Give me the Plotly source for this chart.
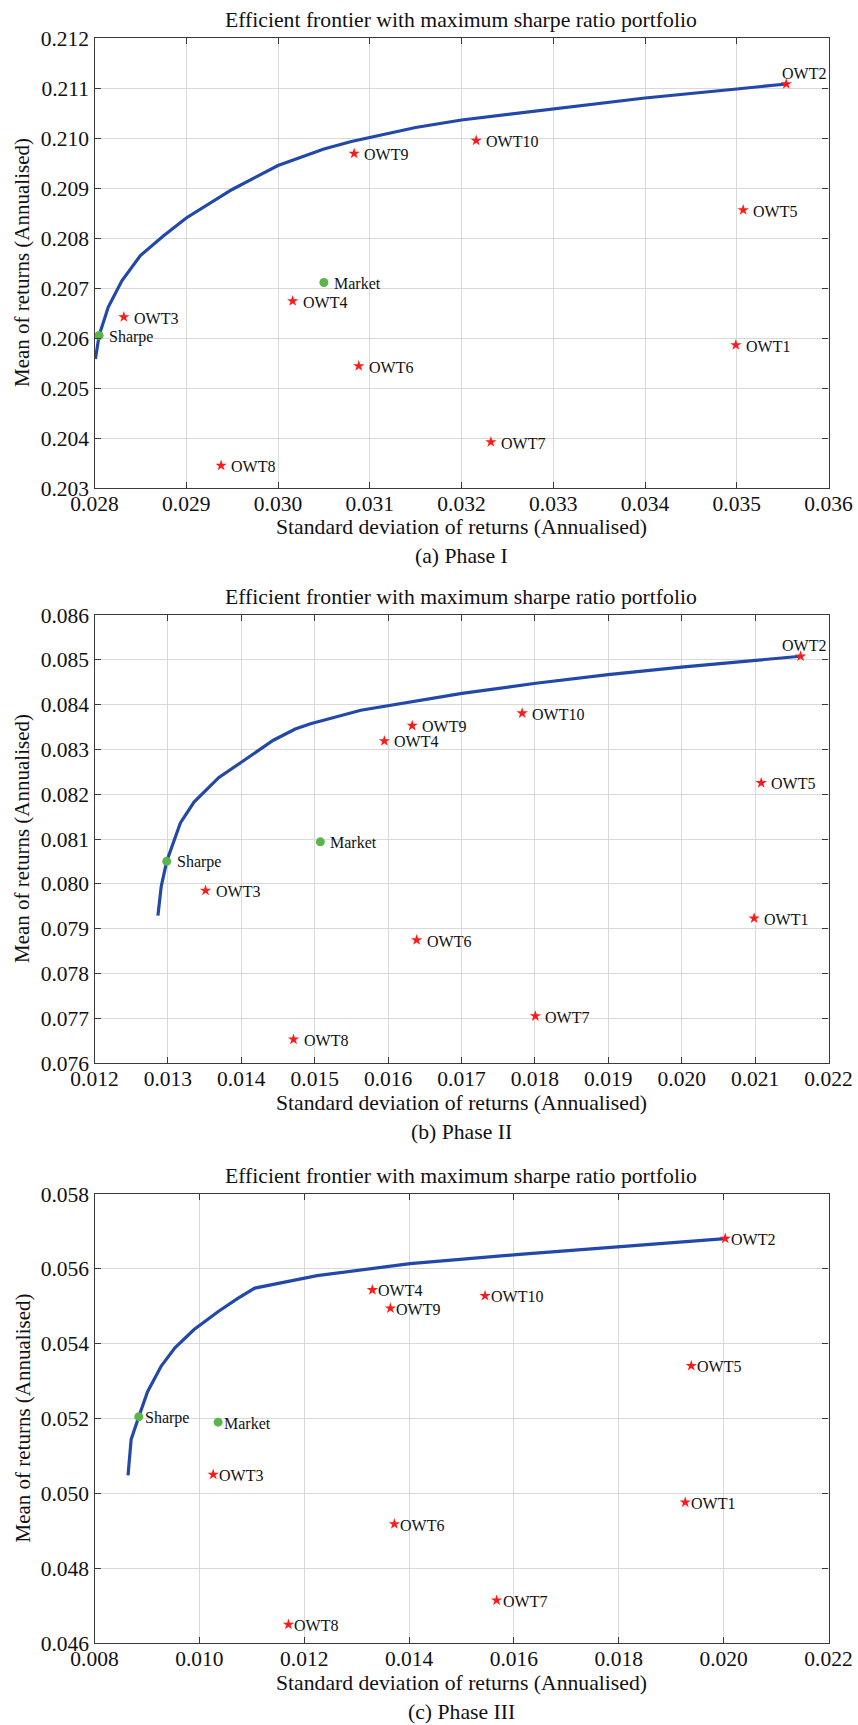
import plotly.graph_objects as go

W, H = 858, 1725

assets = ["OWT1", "OWT2", "OWT3", "OWT4", "OWT5", "OWT6", "OWT7", "OWT8", "OWT9", "OWT10"]

# ---- Phase I ----
p1_sd = [0.03499, 0.03554, 0.02832, 0.03016, 0.03507, 0.03088, 0.03232, 0.02938, 0.03083, 0.03216]
p1_mu = [0.20586, 0.21108, 0.20642, 0.20674, 0.20856, 0.20544, 0.20392, 0.20345, 0.20969, 0.20995]
p1_front_sd = [0.02801, 0.02805, 0.02815, 0.02830, 0.02850, 0.02875, 0.02900, 0.02950, 0.03000,
               0.03050, 0.03080, 0.03100, 0.03150, 0.03200, 0.03300, 0.03400, 0.03500, 0.03554]
p1_front_mu = [0.20558, 0.20605, 0.20662, 0.20715, 0.20765, 0.20804, 0.20840, 0.20897, 0.20945,
               0.20978, 0.20993, 0.21001, 0.21021, 0.21036, 0.21058, 0.21080, 0.21098, 0.21108]
p1_sharpe = [0.02805, 0.20605]
p1_market = [0.03050, 0.20711]

# ---- Phase II ----
p2_sd = [0.020987, 0.02162, 0.013513, 0.015949, 0.021083, 0.016389, 0.018006, 0.014712, 0.016329, 0.017827]
p2_mu = [0.07923, 0.08508, 0.079849, 0.083188, 0.082251, 0.078745, 0.077046, 0.076527, 0.083531, 0.083808]
p2_front_sd = [0.012864, 0.012909, 0.012984, 0.013170, 0.013356, 0.013691, 0.013990, 0.014437, 0.014735,
               0.014943, 0.015629, 0.016374, 0.017007, 0.018013, 0.018997, 0.019995, 0.020993, 0.02162]
p2_front_mu = [0.079289, 0.079941, 0.080502, 0.081360, 0.081824, 0.082368, 0.082703, 0.083205, 0.083456,
               0.083573, 0.083874, 0.084084, 0.084250, 0.084477, 0.084669, 0.084837, 0.084987, 0.08508]
p2_sharpe = [0.012984, 0.080502]
p2_market = [0.015077, 0.080937]

# ---- Phase III ----
p3_sd = [0.019267, 0.020030, 0.010264, 0.013300, 0.019382, 0.013720, 0.015670, 0.011700, 0.013644, 0.015449]
p3_mu = [0.049759, 0.056810, 0.050503, 0.055436, 0.053410, 0.049180, 0.047140, 0.046495, 0.054946, 0.055279]
p3_front_sd = [0.008640, 0.008699, 0.008845, 0.009012, 0.009273, 0.009534, 0.009899, 0.010368, 0.010733,
               0.011057, 0.012246, 0.014019, 0.016106, 0.018192, 0.020030]
p3_front_mu = [0.050480, 0.051442, 0.052049, 0.052715, 0.053400, 0.053889, 0.054379, 0.054868, 0.055210,
               0.055485, 0.055817, 0.056140, 0.056385, 0.056610, 0.056810]
p3_sharpe = [0.008845, 0.052049]
p3_market = [0.010358, 0.051902]

TITLE = "Efficient frontier with maximum sharpe ratio portfolio"
XLABEL = "Standard deviation of returns (Annualised)"
YLABEL = "Mean of returns (Annualised)"

FONT = "Liberation Serif"
TXT = "#111111"
LINE_BLUE = "#2349a8"
STAR_RED = "#ff1a1a"
DOT_GREEN = "#5bb548"
FRAME = "#3a3a3a"
GRID = "#d9d9d9"

# plot-area boxes in pixels (left, right, top, bottom)
X_LEFT, X_RIGHT = 94.5, 828.5
panels = [
    dict(sd=p1_sd, mu=p1_mu, fsd=p1_front_sd, fmu=p1_front_mu, sharpe=p1_sharpe, market=p1_market,
         xr=[0.028, 0.036], xd=0.001, yr=[0.203, 0.212], yd=0.001,
         top=38, bottom=488, caption="(a) Phase I", gap=9, top_label="left"),
    dict(sd=p2_sd, mu=p2_mu, fsd=p2_front_sd, fmu=p2_front_mu, sharpe=p2_sharpe, market=p2_market,
         xr=[0.012, 0.022], xd=0.001, yr=[0.076, 0.086], yd=0.001,
         top=615, bottom=1063, caption="(b) Phase II", gap=9, top_label="center"),
    dict(sd=p3_sd, mu=p3_mu, fsd=p3_front_sd, fmu=p3_front_mu, sharpe=p3_sharpe, market=p3_market,
         xr=[0.008, 0.022], xd=0.002, yr=[0.046, 0.058], yd=0.002,
         top=1194, bottom=1643, caption="(c) Phase III", gap=5, top_label=None),
]


def px_x(p):
    return p / W


def px_y(p):
    return 1 - p / H


fig = go.Figure()
annotations = []
layout_axes = {}
x_mid = px_x((X_LEFT + X_RIGHT) / 2)

for i, pn in enumerate(panels, start=1):
    xa = "x" if i == 1 else f"x{i}"
    ya = "y" if i == 1 else f"y{i}"
    xkey = "xaxis" if i == 1 else f"xaxis{i}"
    ykey = "yaxis" if i == 1 else f"yaxis{i}"

    # efficient frontier
    fig.add_trace(go.Scatter(x=pn["fsd"], y=pn["fmu"], mode="lines",
                             line=dict(color=LINE_BLUE, width=3.2),
                             xaxis=xa, yaxis=ya, showlegend=False, hoverinfo="skip"))
    # individual assets
    fig.add_trace(go.Scatter(x=pn["sd"], y=pn["mu"], mode="markers",
                             marker=dict(symbol="star", size=8.5, color=STAR_RED, line=dict(width=0)),
                             xaxis=xa, yaxis=ya, showlegend=False, text=assets))
    # max-Sharpe and market portfolios
    fig.add_trace(go.Scatter(x=[pn["sharpe"][0], pn["market"][0]], y=[pn["sharpe"][1], pn["market"][1]],
                             mode="markers", marker=dict(symbol="circle", size=9, color=DOT_GREEN,
                                                         line=dict(width=0)),
                             xaxis=xa, yaxis=ya, showlegend=False, text=["Sharpe", "Market"]))

    # point labels
    names = assets + ["Sharpe", "Market"]
    xs = pn["sd"] + [pn["sharpe"][0], pn["market"][0]]
    ys = pn["mu"] + [pn["sharpe"][1], pn["market"][1]]
    for name, xv, yv in zip(names, xs, ys):
        if name == "OWT2" and pn["top_label"] is not None:
            if pn["top_label"] == "left":
                xanchor, xshift = "left", -5
            else:
                xanchor, xshift = "center", 3
            annotations.append(dict(x=xv, y=yv, xref=xa, yref=ya, text=name, showarrow=False,
                                    xanchor=xanchor, yanchor="middle", xshift=xshift, yshift=11,
                                    font=dict(family=FONT, size=16, color=TXT), borderpad=0))
        else:
            annotations.append(dict(x=xv, y=yv, xref=xa, yref=ya, text=name, showarrow=False,
                                    xanchor="left", yanchor="middle", xshift=pn["gap"], yshift=-1,
                                    font=dict(family=FONT, size=16, color=TXT), borderpad=0))

    axis_common = dict(showgrid=True, gridcolor=GRID, gridwidth=1, automargin=False,
                       showline=True, linecolor=FRAME, linewidth=1.3, mirror="ticks",
                       ticks="inside", ticklen=6, tickwidth=1.2, tickcolor=FRAME,
                       tickfont=dict(family=FONT, size=21.5, color=TXT),
                       tickformat=".3f", zeroline=False)
    layout_axes[xkey] = dict(axis_common, range=pn["xr"], dtick=pn["xd"], tick0=pn["xr"][0],
                             domain=[px_x(X_LEFT), px_x(X_RIGHT)], anchor=ya, ticklabelstandoff=-4)
    layout_axes[ykey] = dict(axis_common, range=pn["yr"], dtick=pn["yd"], tick0=pn["yr"][0],
                             domain=[px_y(pn["bottom"]), px_y(pn["top"])], anchor=xa)

    top, bot = pn["top"], pn["bottom"]
    annotations += [
        dict(text=TITLE, x=x_mid, y=px_y(top - 18), xref="paper", yref="paper",
             showarrow=False, xanchor="center", yanchor="middle",
             font=dict(family=FONT, size=21.7, color=TXT)),
        dict(text=XLABEL, x=x_mid, y=px_y(bot + 39.5), xref="paper", yref="paper",
             showarrow=False, xanchor="center", yanchor="middle",
             font=dict(family=FONT, size=21.7, color=TXT)),
        dict(text=pn["caption"], x=x_mid, y=px_y(bot + 68.5), xref="paper", yref="paper",
             showarrow=False, xanchor="center", yanchor="middle",
             font=dict(family=FONT, size=21.7, color=TXT)),
        dict(text=YLABEL, x=px_x(22), y=px_y((top + bot) / 2), xref="paper", yref="paper",
             showarrow=False, xanchor="center", yanchor="middle", textangle=-90,
             font=dict(family=FONT, size=21, color=TXT)),
    ]

fig.update_layout(
    width=W, height=H,
    margin=dict(l=0, r=0, t=0, b=0, pad=0),
    paper_bgcolor="white", plot_bgcolor="white",
    annotations=annotations,
    **layout_axes,
)

fig.write_html("out.html")
